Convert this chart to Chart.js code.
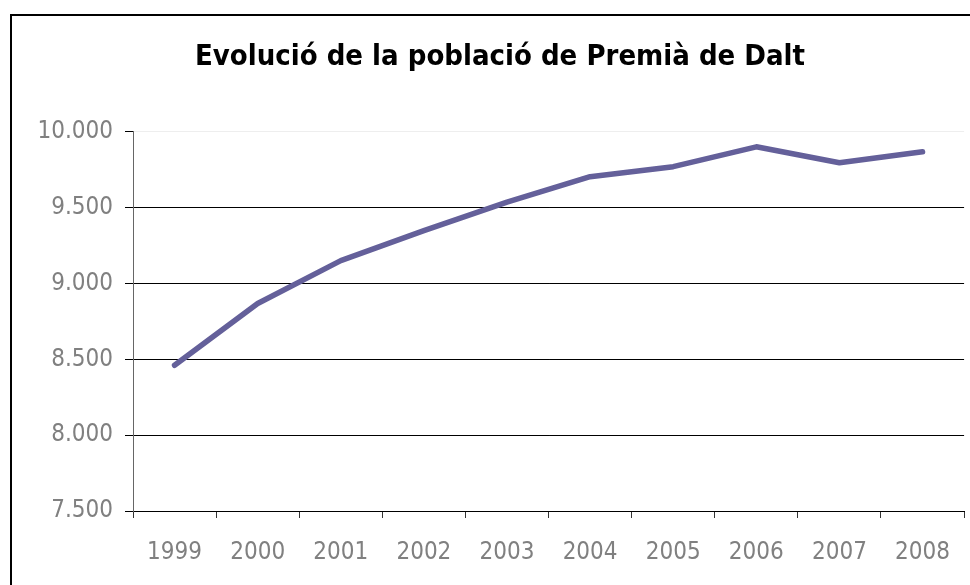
<!DOCTYPE html>
<html>
<head>
<meta charset="utf-8">
<script src="https://cdn.jsdelivr.net/npm/chart.js@4/dist/chart.umd.min.js"></script>
<style>
  html, body { margin: 0; padding: 0; background: #fff; overflow: hidden; }
  #frame { position: absolute; left: 10px; top: 14px; width: 1000px; height: 600px; border-left: 2px solid #000; border-top: 2px solid #000; }
  #wrap { position: absolute; left: 0; top: 0; width: 970px; height: 585px; }
</style>
</head>
<body>
<div id="frame"></div>
<div id="wrap"><canvas id="c" width="970" height="585"></canvas></div>
<script>
const categories = ['1999', '2000', '2001', '2002', '2003', '2004', '2005', '2006', '2007', '2008'];
const population = [8461, 8868, 9151, 9349, 9537, 9704, 9770, 9901, 9796, 9868];
const yTicks = [7500, 8000, 8500, 9000, 9500, 10000];
const titleText = 'Evolució de la població de Premià de Dalt';

const FONT = '"DejaVu Sans Condensed", "DejaVu Sans", sans-serif';

new Chart(document.getElementById('c'), {
  type: 'line',
  data: {
    labels: categories,
    datasets: [{
      data: population,
      borderColor: '#64609a',
      borderWidth: 5.5,
      pointRadius: 0,
      pointHoverRadius: 0,
      tension: 0,
      fill: false,
      borderCapStyle: 'round',
      borderJoinStyle: 'round'
    }]
  },
  options: {
    responsive: false,
    animation: false,
    events: [],
    layout: { padding: { left: 30, right: 0, top: 0, bottom: 0 } },
    plugins: {
      legend: { display: false },
      tooltip: { enabled: false },
      title: {
        display: true,
        text: titleText,
        color: '#000',
        font: { family: FONT, size: 29, weight: 'bold', lineHeight: 1.2 },
        padding: { top: 40, bottom: 57 }
      }
    },
    scales: {
      x: {
        type: 'category',
        offset: true,
        grid: {
          offset: true,
          drawOnChartArea: false,
          drawTicks: true,
          tickLength: 7,
          tickColor: '#333',
          tickWidth: 1
        },
        border: { display: true, color: '#000', width: 1 },
        ticks: {
          color: '#808080',
          font: { family: FONT, size: 24 },
          padding: 20,
          maxRotation: 0,
          autoSkip: false
        },
        afterFit: (s) => { s.height = 74; }
      },
      y: {
        min: 7500,
        max: 10000,
        afterBuildTicks: (s) => { s.ticks = yTicks.map(v => ({ value: v })); },
        grid: {
          color: (ctx) => (ctx.tick && ctx.tick.value === 10000) ? '#eeeeee' : '#000000',
          lineWidth: 1,
          drawTicks: true,
          tickLength: 8,
          tickColor: '#000',
          tickWidth: 1
        },
        border: { display: true, color: '#666666', width: 1 },
        ticks: {
          color: '#808080',
          font: { family: FONT, size: 24 },
          padding: 12,
          callback: (v) => v.toLocaleString('de-DE')
        },
        afterFit: (s) => { s.width = 103; }
      }
    }
  }
});
</script>
</body>
</html>
